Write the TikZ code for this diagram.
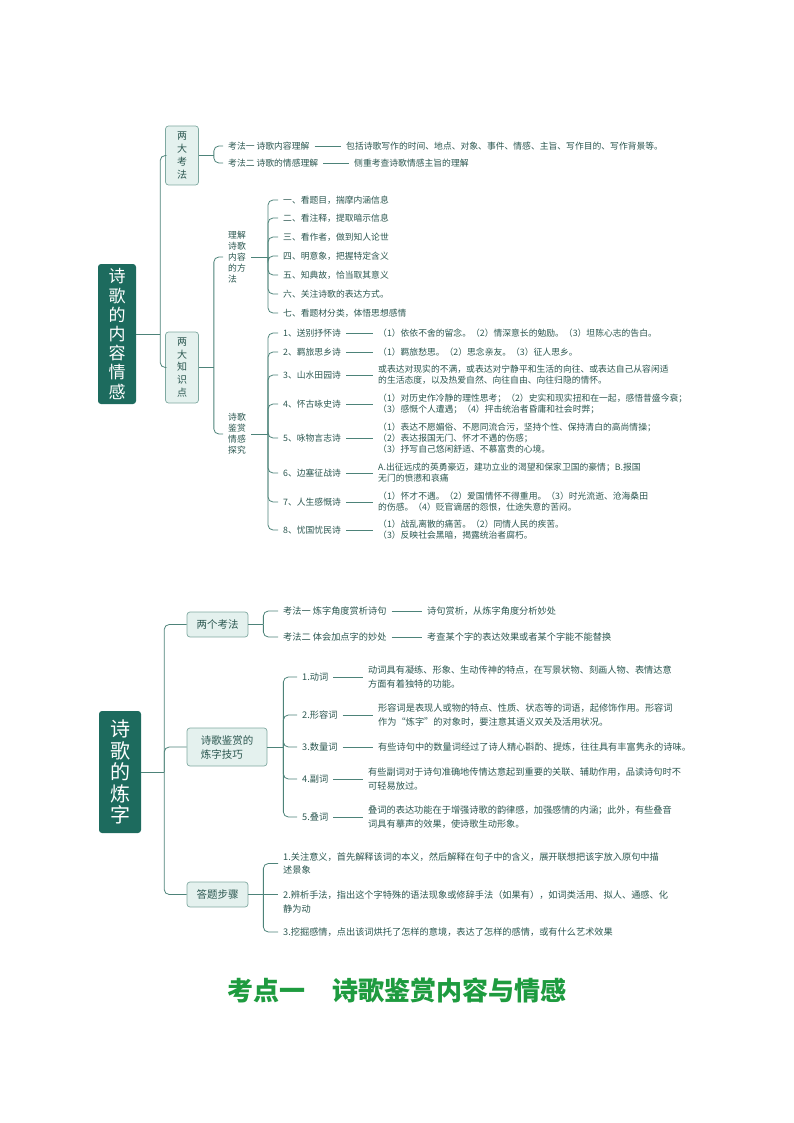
\documentclass[tikz,border=0pt]{standalone}
\usepackage{fontspec}
\setmainfont{Noto Sans CJK SC}
\definecolor{rootc}{HTML}{1D6B5E}
\definecolor{linec}{HTML}{4D8379}
\definecolor{boxfill}{HTML}{E4F1EE}
\definecolor{boxdraw}{HTML}{7FA9A1}
\definecolor{txtc}{HTML}{2B5750}
\definecolor{titlec}{HTML}{1E9B3F}
\begin{document}
\begin{tikzpicture}[x=1pt,y=-1pt,
  rootbox/.style={fill=rootc, rounded corners=3pt, text=white, align=center, inner sep=0pt},
  lbox/.style={draw=boxdraw, fill=boxfill, rounded corners=3pt, text=txtc, line width=0.7pt, align=center, inner sep=0pt},
  ta/.style={anchor=west, text=txtc, inner xsep=5pt, inner ysep=1pt, align=left, font=\fontsize{8.8}{11}\selectfont},
  tb/.style={ta, font=\fontsize{9.2}{13.5}\selectfont},
  conn/.style={draw=linec, line width=0.8pt, rounded corners=5pt}]
\useasboundingbox (0,0) rectangle (794,1123);

% ===== top diagram =====
\node[rootbox, minimum width=38pt, minimum height=140pt, font=\fontsize{17}{19.2}\selectfont] (R1) at (117,334) {诗\\歌\\的\\内\\容\\情\\感};
\node[lbox, minimum width=33pt, minimum height=59pt, font=\fontsize{10}{13}\selectfont] (B1) at (182,155.5) {两\\大\\考\\法};
\node[lbox, minimum width=33pt, minimum height=71pt, font=\fontsize{10}{12.7}\selectfont] (B2) at (182,367.5) {两\\大\\知\\识\\点};

\node[ta] (a1) at (223,146) {考法一 诗歌内容理解};
\node[ta] (a1d) at (341,146) {包括诗歌写作的时间、地点、对象、事件、情感、主旨、写作目的、写作背景等。};
\node[ta] (a2) at (223,163) {考法二 诗歌的情感理解};
\node[ta] (a2d) at (349,163) {侧重考查诗歌情感主旨的理解};

\node[ta] (m1) at (223,257) {理解\\诗歌\\内容\\的方\\法};
\node[ta] (m2) at (223,434) {诗歌\\鉴赏\\情感\\探究};

\node[ta] (p1) at (278,200) {一、看题目，揣摩内涵信息};
\node[ta] (p2) at (278,218) {二、看注释，提取暗示信息};
\node[ta] (p3) at (278,237) {三、看作者，做到知人论世};
\node[ta] (p4) at (278,256) {四、明意象，把握特定含义};
\node[ta] (p5) at (278,275) {五、知典故，恰当取其意义};
\node[ta] (p6) at (278,294) {六、关注诗歌的表达方式。};
\node[ta] (p7) at (278,313) {七、看题材分类，体悟思想感情};

\node[ta] (q1) at (278,333) {1、送别抒怀诗};
\node[ta] (q2) at (278,352) {2、羁旅思乡诗};
\node[ta] (q3) at (278,375) {3、山水田园诗};
\node[ta] (q4) at (278,404) {4、怀古咏史诗};
\node[ta] (q5) at (278,438) {5、咏物言志诗};
\node[ta] (q6) at (278,473) {6、边塞征战诗};
\node[ta] (q7) at (278,502) {7、人生感慨诗};
\node[ta] (q8) at (278,530) {8、忧国忧民诗};

\node[ta] (dq1) at (373,333) {（1）依依不舍的留念。（2）情深意长的勉励。（3）坦陈心志的告白。};
\node[ta] (dq2) at (373,352) {（1）羁旅愁思。（2）思念亲友。（3）征人思乡。};
\node[ta] (dq3) at (373,375) {或表达对现实的不满，或表达对宁静平和生活的向往、或表达自己从容闲适\\的生活态度，以及热爱自然、向往自由、向往归隐的情怀。};
\node[ta] (dq4) at (373,404) {（1）对历史作冷静的理性思考；（2）史实和现实扭和在一起，感悟昔盛今衰；\\（3）感慨个人遭遇；（4）抨击统治者昏庸和社会时弊；};
\node[ta] (dq5) at (373,438) {（1）表达不愿媚俗、不愿同流合污，坚持个性、保持清白的高尚情操；\\（2）表达报国无门、怀才不遇的伤感；\\（3）抒写自己悠闲舒适、不慕富贵的心境。};
\node[ta] (dq6) at (373,473) {A.出征远戍的英勇豪迈，建功立业的渴望和保家卫国的豪情；B.报国\\无门的愤懑和哀痛};
\node[ta] (dq7) at (373,502) {（1）怀才不遇。（2）爱国情怀不得重用。（3）时光流逝、沧海桑田\\的伤感。（4）贬官谪居的怨恨，仕途失意的苦闷。};
\node[ta] (dq8) at (373,530) {（1）战乱离散的痛苦。（2）同情人民的疾苦。\\（3）反映社会黑暗，揭露统治者腐朽。};

\coordinate (jR1) at ([xshift=24pt]R1.east);
\draw[conn] (R1.east) -- (jR1);
\draw[conn] (jR1) |- (B1.west);
\draw[conn] (jR1) |- (B2.west);

\coordinate (jK) at ([xshift=15pt]B1.east);
\draw[conn] (B1.east) -- (jK);
\draw[conn] (jK) |- (a1.west);
\draw[conn] (jK) |- (a2.west);
\draw[conn] (a1.east) -- (a1d.west);
\draw[conn] (a2.east) -- (a2d.west);

\coordinate (jZ) at ([xshift=15pt]B2.east);
\draw[conn] (B2.east) -- (jZ);
\draw[conn] (jZ) |- (m1.west);
\draw[conn] (jZ) |- (m2.west);

\coordinate (jM1) at (268,257);
\draw[conn] (m1.east) -- (jM1);
\foreach \n in {p1,p2,p3,p4,p5,p6,p7} \draw[conn] (jM1) |- (\n.west);

\coordinate (jM2) at (268,434);
\draw[conn] (m2.east) -- (jM2);
\foreach \n in {q1,q2,q3,q4,q5,q6,q7,q8} {
  \draw[conn] (jM2) |- (\n.west);
  \draw[conn] (\n.east) -- (d\n.west);
}

% ===== bottom diagram =====
\node[rootbox, minimum width=42pt, minimum height=122pt, font=\fontsize{20}{21.5}\selectfont] (R2) at (120,772) {诗\\歌\\的\\炼\\字};
\node[lbox, minimum width=61pt, minimum height=25pt, font=\fontsize{10.5}{14}\selectfont] (C1) at (217.5,624.5) {两个考法};
\node[lbox, minimum width=80pt, minimum height=38pt, align=left, font=\fontsize{10.5}{14}\selectfont] (C2) at (227,747) {诗歌鉴赏的\\炼字技巧};
\node[lbox, minimum width=61pt, minimum height=25pt, font=\fontsize{10.5}{14}\selectfont] (C3) at (217.5,894.5) {答题步骤};

\node[tb] (c1) at (278,611) {考法一 炼字角度赏析诗句};
\node[tb] (dc1) at (422,611) {诗句赏析，从炼字角度分析妙处};
\node[tb] (c2) at (278,637) {考法二 体会加点字的妙处};
\node[tb] (dc2) at (422,637) {考查某个字的表达效果或者某个字能不能替换};

\node[tb] (w1) at (297,677) {1.动词};
\node[tb] (w2) at (297,715) {2.形容词};
\node[tb] (w3) at (297,747) {3.数量词};
\node[tb] (w4) at (297,779) {4.副词};
\node[tb] (w5) at (297,817) {5.叠词};
\node[tb] (dw1) at (363,677) {动词具有凝练、形象、生动传神的特点，在写景状物、刻画人物、表情达意\\方面有着独特的功能。};
\node[tb] (dw2) at (373,715) {形容词是表现人或物的特点、性质、状态等的词语，起修饰作用。形容词\\作为“炼字”的对象时，要注意其语义双关及活用状况。};
\node[tb] (dw3) at (373,747) {有些诗句中的数量词经过了诗人精心斟酌、提炼，往往具有丰富隽永的诗味。};
\node[tb] (dw4) at (363,779) {有些副词对于诗句准确地传情达意起到重要的关联、辅助作用，品读诗句时不\\可轻易放过。};
\node[tb] (dw5) at (363,817) {叠词的表达功能在于增强诗歌的韵律感，加强感情的内涵；此外，有些叠音\\词具有摹声的效果，使诗歌生动形象。};

\node[tb] (s1) at (278,863.5) {1.关注意义，首先解释该词的本义，然后解释在句子中的含义，展开联想把该字放入原句中描\\述景象};
\node[tb] (s2) at (278,901.75) {2.辨析手法，指出这个字特殊的语法现象或修辞手法（如果有），如词类活用、拟人、通感、化\\静为动};
\node[tb] (s3) at (278,932) {3.挖掘感情，点出该词烘托了怎样的意境，表达了怎样的感情，或有什么艺术效果};

\coordinate (jR2) at ([xshift=23pt]R2.east);
\draw[conn] (R2.east) -- (jR2);
\draw[conn] (jR2) |- (C1.west);
\draw[conn] (jR2) |- (C2.west);
\draw[conn] (jR2) |- (C3.west);

\coordinate (jC1) at ([xshift=15pt]C1.east);
\draw[conn] (C1.east) -- (jC1);
\draw[conn] (jC1) |- (c1.west);
\draw[conn] (jC1) |- (c2.west);
\draw[conn] (c1.east) -- (dc1.west);
\draw[conn] (c2.east) -- (dc2.west);

\coordinate (jC2) at ([xshift=16pt]C2.east);
\draw[conn] (C2.east) -- (jC2);
\foreach \n in {w1,w2,w3,w4,w5} {
  \draw[conn] (jC2) |- (\n.west);
  \draw[conn] (\n.east) -- (d\n.west);
}

\coordinate (jC3) at ([xshift=15pt]C3.east);
\draw[conn] (C3.east) -- (jC3);
\draw[conn] (jC3) |- (s1.west);
\draw[conn] (jC3) -- (jC3 -| s2.west);
\draw[conn] (jC3) |- (s3.west);

% ===== title =====
\node[font=\fontsize{26}{26}\selectfont\bfseries, text=titlec] (title) at (397,990) {考点一\hspace{28pt}诗歌鉴赏内容与情感};
\end{tikzpicture}
\end{document}
